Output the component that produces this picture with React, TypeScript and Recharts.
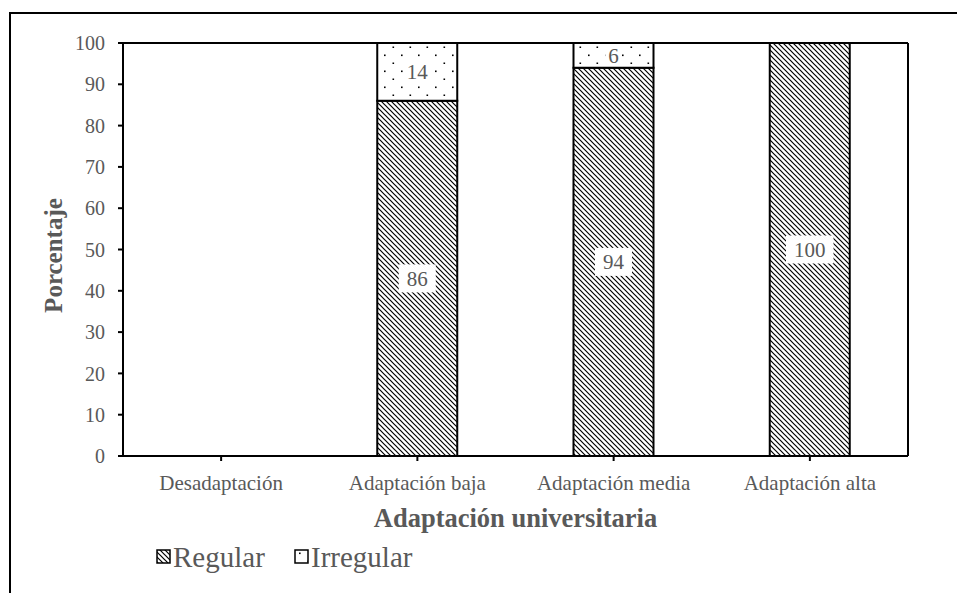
import React from "react";
import { BarChart, Bar, XAxis, YAxis, ReferenceLine, LabelList } from "recharts";

const categories = ["Desadaptación", "Adaptación baja", "Adaptación media", "Adaptación alta"];
const regular = [0, 86, 94, 100];
const irregular = [0, 14, 6, 0];
const yTicks = [0, 10, 20, 30, 40, 50, 60, 70, 80, 90, 100];

const data = categories.map((name, i) => ({ name, regular: regular[i], irregular: irregular[i] }));

const FONT = '"Liberation Serif", "Times New Roman", serif';
const GREY = "#595959";

const Patterns = ({ prefix }: { prefix: string }) => (
  <defs>
    <pattern id={`${prefix}-diag`} width="5" height="5" patternUnits="userSpaceOnUse">
      <rect width="5" height="5" fill="#fff" />
      <path d="M-1,-1 L6,6 M-1,4 L1,6 M4,-1 L6,1" stroke="#000" strokeWidth="1.2" />
    </pattern>
    <pattern id={`${prefix}-dots`} width="17" height="16" patternUnits="userSpaceOnUse">
      <rect width="17" height="16" fill="#fff" />
      <rect x="1.5" y="14.5" width="1.6" height="1.6" fill="#000" />
      <rect x="10" y="6.5" width="1.6" height="1.6" fill="#000" />
    </pattern>
  </defs>
);

// etiqueta con fondo blanco, como en Excel
const boxLabel = (pad: number, h: number) => (props: any) => {
  const { x, y, width, height, value } = props;
  if (!value) return null;
  const cx = x + width / 2;
  const cy = y + height / 2;
  const w = String(value).length * 10.5 + pad * 2;
  return (
    <g>
      <rect x={cx - w / 2} y={cy - h / 2} width={w} height={h} fill="#fff" />
      <text x={cx} y={cy} dy="0.35em" textAnchor="middle" fontSize={21} fontFamily={FONT} fill={GREY}>
        {value}
      </text>
    </g>
  );
};

export default function App() {
  return (
    <div style={{ position: "relative", width: 957, height: 593, overflow: "hidden", background: "#fff" }}>
      <style>{`body{margin:0}`}</style>
      <div
        style={{
          position: "absolute",
          left: 9,
          top: 12,
          width: 1000,
          height: 700,
          borderTop: "2px solid #000",
          borderLeft: "2px solid #000",
        }}
      />
      <div style={{ position: "absolute", left: 0, top: 0 }}>
        <BarChart width={957} height={593} data={data} margin={{ top: 43, right: 48, bottom: 66, left: 20 }}>
          <Patterns prefix="c" />
          <XAxis
            dataKey="name"
            height={71}
            tickSize={5}
            tickMargin={14}
            axisLine={{ stroke: "#000", strokeWidth: 2 }}
            tickLine={{ stroke: "#000", strokeWidth: 2 }}
            tick={{ fill: GREY, fontSize: 21, fontFamily: FONT }}
            label={{
              content: (p: any) => {
                const vb = p.viewBox;
                return (
                  <text
                    x={vb.x + vb.width / 2}
                    y={vb.y + vb.height}
                    textAnchor="middle"
                    fontSize={26.5}
                    fontWeight="bold"
                    fontFamily={FONT}
                    fill={GREY}
                  >
                    Adaptación universitaria
                  </text>
                );
              },
            }}
          />
          <YAxis
            width={103}
            domain={[0, 100]}
            ticks={yTicks}
            interval={0}
            tickSize={5}
            tickMargin={13}
            axisLine={{ stroke: "#000", strokeWidth: 2 }}
            tickLine={{ stroke: "#000", strokeWidth: 2 }}
            tick={{ fill: GREY, fontSize: 20, fontFamily: FONT }}
            label={{
              content: (p: any) => {
                const vb = p.viewBox;
                const lx = vb.x + 42;
                const ly = vb.y + vb.height / 2 + 6;
                return (
                  <text
                    x={lx}
                    y={ly}
                    transform={`rotate(-90 ${lx} ${ly})`}
                    textAnchor="middle"
                    fontSize={25}
                    fontWeight="bold"
                    fontFamily={FONT}
                    fill={GREY}
                  >
                    Porcentaje
                  </text>
                );
              },
            }}
          />
          <YAxis
            yAxisId="r"
            orientation="right"
            width={1}
            domain={[0, 100]}
            tick={false}
            tickLine={false}
            axisLine={{ stroke: "#000", strokeWidth: 2 }}
          />
          <ReferenceLine y={100} stroke="#000" strokeWidth={2} />
          <Bar
            dataKey="regular"
            stackId="a"
            barSize={80}
            fill="url(#c-diag)"
            stroke="#000"
            strokeWidth={2}
            isAnimationActive={false}
          >
            <LabelList dataKey="regular" content={boxLabel(8, 28)} />
          </Bar>
          <Bar
            dataKey="irregular"
            stackId="a"
            barSize={80}
            fill="url(#c-dots)"
            stroke="#000"
            strokeWidth={2}
            isAnimationActive={false}
          >
            <LabelList dataKey="irregular" content={boxLabel(3, 20)} />
          </Bar>
        </BarChart>
      </div>
      {/* leyenda */}
      <svg style={{ position: "absolute", left: 0, top: 530 }} width={520} height={50}>
        <Patterns prefix="l" />
        <rect x={157} y={20} width={13} height={13} fill="url(#l-diag)" stroke="#000" strokeWidth={1.5} />
        <text x={173} y={37} fontSize={29} fontFamily={FONT} fill={GREY}>
          Regular
        </text>
        <rect x={295} y={20} width={13} height={13} fill="url(#l-dots)" stroke="#000" strokeWidth={1.5} />
        <text x={311} y={37} fontSize={29} fontFamily={FONT} fill={GREY}>
          Irregular
        </text>
      </svg>
    </div>
  );
}
